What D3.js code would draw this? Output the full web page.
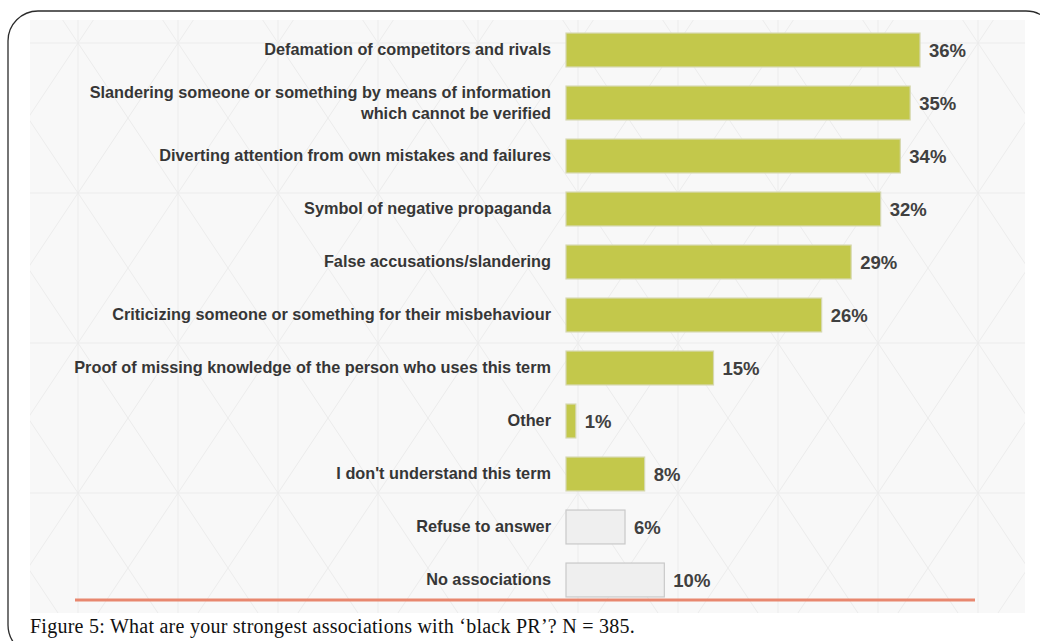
<!DOCTYPE html>
<html>
<head>
<meta charset="utf-8">
<script src="https://cdn.jsdelivr.net/npm/d3@7"></script>
<style>
  html, body { margin: 0; padding: 0; background: #ffffff; }
  svg { display: block; }
</style>
</head>
<body>
<svg id="chart" width="1040" height="641"></svg>
<script>
// Survey answers, top to bottom
const categories = [
  "Defamation of competitors and rivals",
  "Slandering someone or something by means of information|which cannot be verified",
  "Diverting attention from own mistakes and failures",
  "Symbol of negative propaganda",
  "False accusations/slandering",
  "Criticizing someone or something for their misbehaviour",
  "Proof of missing knowledge of the person who uses this term",
  "Other",
  "I don't understand this term",
  "Refuse to answer",
  "No associations"
];
// Share of respondents, percent
const values = [36, 35, 34, 32, 29, 26, 15, 1, 8, 6, 10];
// Answers that are not an association get the neutral fill
const neutral = [false, false, false, false, false, false, false, false, false, true, true];
const valueLabels = ["36%", "35%", "34%", "32%", "29%", "26%", "15%", "1%", "8%", "6%", "10%"];
const caption = "Figure 5: What are your strongest associations with \u2018black PR\u2019? N = 385.";

const svg = d3.select("#chart");

// Rounded frame around the figure
svg.append("rect")
  .attr("x", 8).attr("y", 11)
  .attr("width", 1048).attr("height", 644)
  .attr("rx", 30).attr("ry", 30)
  .attr("fill", "none")
  .attr("stroke", "#2b2b2b")
  .attr("stroke-width", 1.3);

// Plot panel with a faint geometric backdrop
const panel = { x0: 30, y0: 20, x1: 1025, y1: 613 };
svg.append("defs").append("clipPath").attr("id", "panelClip")
  .append("rect")
  .attr("x", panel.x0).attr("y", panel.y0)
  .attr("width", panel.x1 - panel.x0).attr("height", panel.y1 - panel.y0);

const bg = svg.append("g").attr("clip-path", "url(#panelClip)");
bg.append("rect")
  .attr("x", panel.x0).attr("y", panel.y0)
  .attr("width", panel.x1 - panel.x0).attr("height", panel.y1 - panel.y0)
  .attr("fill", "#f8f8f8");

const cellW = 100, cellH = 150, gx0 = -22, gy0 = -107;
const cols = d3.range(0, 12), rows = d3.range(0, 6);
const patternStroke = "#ececec";
bg.selectAll("line.v").data(cols).join("line")
  .attr("x1", c => gx0 + c * cellW).attr("x2", c => gx0 + c * cellW)
  .attr("y1", panel.y0).attr("y2", panel.y1)
  .attr("stroke", patternStroke).attr("stroke-width", 1);
bg.selectAll("line.h").data(rows).join("line")
  .attr("y1", r => gy0 + r * cellH).attr("y2", r => gy0 + r * cellH)
  .attr("x1", panel.x0).attr("x2", panel.x1)
  .attr("stroke", patternStroke).attr("stroke-width", 1);
const cells = d3.cross(cols, rows);
bg.selectAll("path.diag").data(cells).join("path")
  .attr("d", ([c, r]) => {
    const x = gx0 + c * cellW, y = gy0 + r * cellH;
    return `M${x},${y}L${x + cellW},${y + cellH}M${x + cellW},${y}L${x},${y + cellH}`;
  })
  .attr("fill", "none")
  .attr("stroke", patternStroke).attr("stroke-width", 1);

// Scales
const x = d3.scaleLinear().domain([0, 36]).range([566, 920]);
const y = d3.scaleBand().domain(categories)
  .range([23.5, 606.5]).paddingInner(0.36).paddingOuter(0.18);

const g = svg.append("g");

// Bars
g.selectAll("rect.bar").data(values).join("rect")
  .attr("class", "bar")
  .attr("x", x(0))
  .attr("y", (d, i) => y(categories[i]))
  .attr("width", d => x(d) - x(0))
  .attr("height", y.bandwidth())
  .attr("fill", (d, i) => neutral[i] ? "#efefef" : "#c3c84b")
  .attr("stroke", (d, i) => neutral[i] ? "#c9c9c9" : "#d6d8b0")
  .attr("stroke-width", 1.2);

// Value labels
g.selectAll("text.val").data(values).join("text")
  .attr("class", "val")
  .attr("x", d => x(d) + 9)
  .attr("y", (d, i) => y(categories[i]) + y.bandwidth() / 2 + 2)
  .attr("dominant-baseline", "middle")
  .attr("font-family", "'Liberation Sans', Arial, sans-serif")
  .attr("font-weight", "bold")
  .attr("font-size", 18.5)
  .attr("fill", "#404040")
  .text((d, i) => valueLabels[i]);

// Category labels (a "|" splits a label over two lines)
const cat = g.selectAll("text.cat").data(categories).join("text")
  .attr("class", "cat")
  .attr("text-anchor", "end")
  .attr("font-family", "'Liberation Sans', Arial, sans-serif")
  .attr("font-weight", "bold")
  .attr("font-size", 16.3)
  .attr("fill", "#363636");
cat.each(function (d) {
  const parts = d.split("|");
  const cy = y(d) + y.bandwidth() / 2;
  const t = d3.select(this);
  const lh = 21;
  const top = cy - (parts.length - 1) * lh / 2 + 1;
  parts.forEach((p, k) => {
    t.append("tspan")
      .attr("x", 551)
      .attr("y", top + k * lh)
      .attr("dominant-baseline", "middle")
      .text(p);
  });
});

// Base rule under the bars
svg.append("line")
  .attr("x1", 75).attr("x2", 975)
  .attr("y1", 600).attr("y2", 600)
  .attr("stroke", "#e8876f").attr("stroke-width", 3);

// Caption
svg.append("text")
  .attr("x", 30).attr("y", 633)
  .attr("font-family", "'Liberation Serif', 'Times New Roman', serif")
  .attr("font-size", 20)
  .attr("letter-spacing", 0.25)
  .attr("fill", "#111")
  .text(caption);
</script>
</body>
</html>
